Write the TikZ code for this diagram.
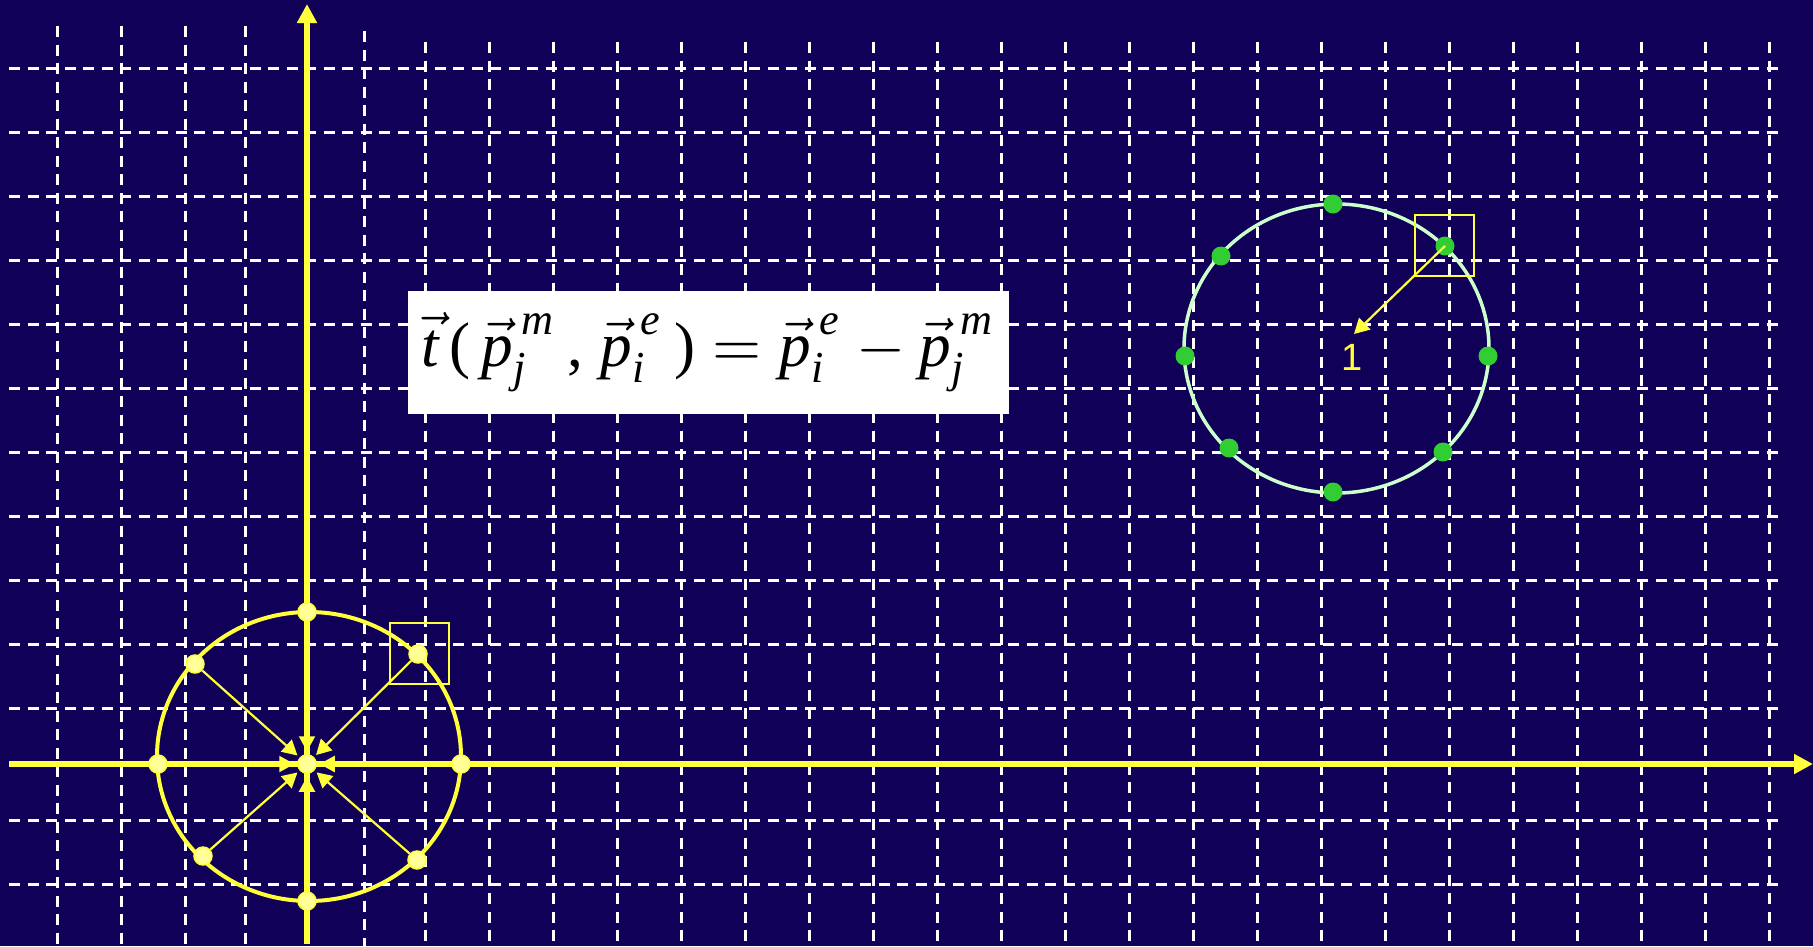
\documentclass[tikz,border=0pt]{standalone}
\usepackage{amsmath}
\usepackage{fontspec}
\newfontfamily\labelfont{Liberation Sans}
\newfontfamily\eqfont{Liberation Serif}
\newcommand{\ev}[1]{\text{\eqfont\itshape #1}}
\newcommand{\er}[1]{\text{\eqfont #1}}
\usetikzlibrary{arrows.meta}
\definecolor{bg}{RGB}{16,0,88}
\definecolor{axisyellow}{RGB}{255,255,60}
\definecolor{dotyellow}{RGB}{255,255,150}
\definecolor{mint}{RGB}{204,255,204}
\definecolor{dotgreen}{RGB}{50,205,50}
\begin{document}
\begin{tikzpicture}[x=1pt,y=-1pt,
  gridline/.style={white, line width=3pt, dash pattern=on 11pt off 7.5pt},
  axisline/.style={axisyellow, line width=6pt, -{Triangle[length=19pt,width=19pt]}},
  ydot/.style={circle, fill=dotyellow, draw=axisyellow, line width=1.5pt, inner sep=0pt, minimum size=18pt},
  gdot/.style={circle, fill=dotgreen, inner sep=0pt, minimum size=19pt},
  spoke/.style={axisyellow, line width=2.2pt, -{Triangle[length=15pt,width=16pt]}},
  markbox/.style={draw=axisyellow, line width=2pt, minimum width=59pt, minimum height=61pt, inner sep=0pt},
]
\fill[bg] (0,0) rectangle (1813,946);
\useasboundingbox (0,0) rectangle (1813,946);

% grid
\foreach \y in {68,132,196,260,324,388,452,516,580,644,708,820,884}
  \draw[gridline] (9,\y) -- (1785,\y);
\foreach \x in {57,121,185,245}
  \draw[gridline] (\x,26) -- (\x,946);
\draw[gridline] (364,31) -- (364,946);
\foreach \x in {425,489,...,1769}
  \draw[gridline] (\x,42) -- (\x,946);

% axes
\coordinate (xstart) at (9,764);
\coordinate (xend) at (1813,764);
\coordinate (ystart) at (307,944);
\coordinate (yend) at (307,4);
\draw[axisline] (xstart) -- (xend);
\draw[axisline] (ystart) -- (yend);

% formula
\node[fill=white, minimum width=601pt, minimum height=123pt, inner sep=0pt] (eq) at (708.5,352.5)
  {\resizebox{573pt}{!}{$\vec{\ev{t}}\,\er{(}\,\vec{\ev{p}}^{\,\ev{m}}_{\ev{j}}\,\er{,}\;\vec{\ev{p}}^{\,\ev{e}}_{\ev{i}}\,\er{)}=\vec{\ev{p}}^{\,\ev{e}}_{\ev{i}}-\vec{\ev{p}}^{\,\ev{m}}_{\ev{j}}$}};

% left circle
\draw[axisyellow, line width=4pt] (309,756.5) ellipse [x radius=152, y radius=144.5];
\node[ydot] (O) at (307,764) {};
\node[ydot] (lt) at (307,612) {};
\node[ydot] (lul) at (195,664) {};
\node[ydot] (lur) at (418,654) {};
\node[ydot] (ll) at (158,764) {};
\node[ydot] (lr) at (461,764) {};
\node[ydot] (lll) at (203,856) {};
\node[ydot] (llr) at (417,860) {};
\node[ydot] (lb) at (307,901) {};
\foreach \n in {lt,lul,lur,ll,lr,lll,llr,lb}
  \draw[spoke, shorten >=3pt] (\n) -- (O);
\node[ydot] at (O) {};
\node[markbox] (lsq) at (419.5,653.5) {};

% right circle
\draw[mint, line width=3.5pt] (1336.5,348.5) ellipse [x radius=152.5, y radius=144.5];
\node[gdot] (rt) at (1333,204) {};
\node[gdot] (rul) at (1221,256) {};
\node[gdot] (rur) at (1445,246) {};
\node[gdot] (rl) at (1185,356) {};
\node[gdot] (rr) at (1488,356) {};
\node[gdot] (rll) at (1229,448) {};
\node[gdot] (rlr) at (1443,452) {};
\node[gdot] (rb) at (1333,492) {};
\node[markbox] (rsq) at (1444.5,245) {};
\coordinate (rtip) at (1354,334);
\draw[spoke] (rur.center) -- (rtip);
\node[text=axisyellow, font=\labelfont\fontsize{38}{38}\selectfont, inner sep=0pt] (one) at (1352,357) {1};
\end{tikzpicture}
\end{document}
